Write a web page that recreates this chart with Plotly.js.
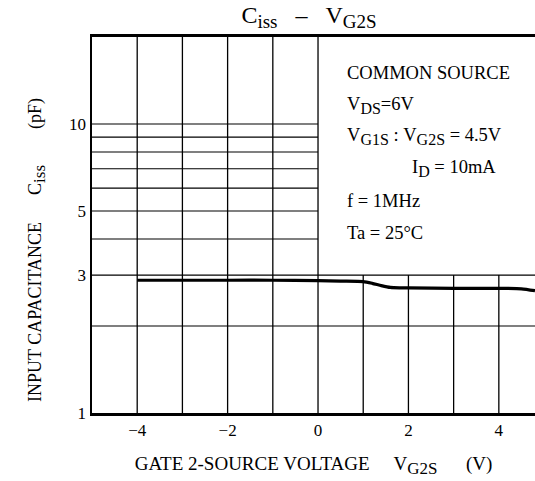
<!DOCTYPE html>
<html>
<head>
<meta charset="utf-8">
<script src="https://cdn.plot.ly/plotly-3.0.1.min.js"></script>
<style>html,body{margin:0;padding:0;background:#fff;}#chart{width:535px;height:481px;}</style>
</head>
<body>
<div id="chart"></div>
<script>
// Data
const vg2s = [-4, -3, -2, -1, 0, 0.5, 1.0, 1.2, 1.4, 1.6, 1.8, 2, 3, 4, 4.5, 4.8];
const ciss = [2.88, 2.88, 2.88, 2.88, 2.87, 2.86, 2.85, 2.81, 2.76, 2.72, 2.71, 2.71, 2.70, 2.70, 2.69, 2.65];

const xTickVals = [-4, -2, 0, 2, 4];
const xTickText = ['\u22124', '\u22122', '0', '2', '4'];
const yTickVals = [1, 3, 5, 10];
const yTickText = ['1', '3', '5', '10'];

const hGridFull = [2, 3];
const hGridLeft = [4, 5, 6, 7, 8, 9, 10];
const vGridFull = [-4, -3, -2, -1, 0];
const vGridLower = [1, 2, 3, 4];

const sub = (t, s) => '<sub><span style="font-size:' + (s || 16) + 'px">' + t + '</span></sub>';
const NB = '\u00a0';
const sp = n => NB.repeat(n);
const conditions = [
  'COMMON SOURCE',
  'V' + sub('DS') + '=6V',
  'V' + sub('G1S') + sp(1) + ':' + sp(1) + 'V' + sub('G2S') + sp(1) + '=' + sp(1) + '4.5V',
  'I' + sub('D') + sp(1) + '=' + sp(1) + '10mA',
  'f' + sp(1) + '=' + sp(1) + '1MHz',
  'Ta' + sp(1) + '=' + sp(1) + '25\u00b0C'
];

const xMin = -5, xMax = 4.8;
const yMax = 20;
const yRange = [0, Math.log10(yMax)];
const yFrac = v => Math.log10(v) / yRange[1];

const FONT = 'Liberation Serif, Times New Roman, serif';

const shapes = [];
hGridFull.forEach(v => shapes.push({type:'line', xref:'x domain', yref:'y domain', x0:0, x1:1, y0:yFrac(v), y1:yFrac(v), line:{color:'#000', width:1.2}}));
hGridLeft.forEach(v => shapes.push({type:'line', xref:'x', yref:'y domain', x0:xMin, x1:0, y0:yFrac(v), y1:yFrac(v), line:{color:'#000', width:1.2}}));
vGridFull.forEach(v => shapes.push({type:'line', xref:'x', yref:'y domain', x0:v, x1:v, y0:0, y1:1, line:{color:'#000', width:1.3}}));
vGridLower.forEach(v => shapes.push({type:'line', xref:'x', yref:'y domain', x0:v, x1:v, y0:0, y1:yFrac(3), line:{color:'#000', width:1.3}}));

const W = 535, H = 481, mL = 92, mT = 37, mB = 68, mR = 0;
const px2x = px => (px - mL) / (W - mL - mR);
const py2y = py => (H - mB - py) / (H - mT - mB);

const condPos = [
  [345, 73], [345, 105], [345, 136], [410, 168], [345, 201], [345, 233]
];
const annotations = conditions.map((t, i) => ({
  text: t, xref:'paper', yref:'paper', x: px2x(condPos[i][0]), y: py2y(condPos[i][1]),
  xanchor:'left', yanchor:'middle', showarrow:false,
  font:{family:FONT, size:18.5, color:'#000'}
}));
annotations.push({
  text:'INPUT CAPACITANCE' + sp(6) + 'C' + sub('iss', 17) + sp(8) + '(pF)',
  xref:'paper', yref:'paper', x: px2x(37), y: py2y(250),
  xanchor:'center', yanchor:'middle', textangle:-90, showarrow:false,
  font:{family:FONT, size:18, color:'#000'}
});

const trace = {
  x: vg2s, y: ciss, type:'scatter', mode:'lines',
  line:{color:'#000', width:3.2, shape:'spline', smoothing:0.6},
  hoverinfo:'skip', showlegend:false
};

const layout = {
  width: W, height: H,
  margin: {l:mL, r:mR, t:mT, b:mB},
  paper_bgcolor:'#fff', plot_bgcolor:'#fff',
  font:{family:FONT, color:'#000', size:16},
  title:{text:'C' + sub('iss', 19) + sp(3) + '\u2013' + sp(3) + 'V' + sub('G2S', 19), x:309/W, xanchor:'center', xref:'container', y:1-15/H, yanchor:'middle', yref:'container', font:{family:FONT, size:24, color:'#000'}},
  xaxis:{
    range:[xMin, xMax], showgrid:false, zeroline:false,
    showline:true, linecolor:'#000', linewidth:3, mirror:true,
    tickmode:'array', tickvals:xTickVals, ticktext:xTickText, ticks:'',
    tickfont:{family:FONT, size:17, color:'#000'},
    title:{text:sp(3) + 'GATE 2-SOURCE VOLTAGE' + sp(5) + 'V' + sub('G2S', 17) + sp(6) + '(V)', font:{family:FONT, size:19, color:'#000'}, standoff:18}
  },
  yaxis:{
    type:'log', range:yRange, showgrid:false, zeroline:false,
    showline:true, linecolor:'#000', linewidth:2.5, mirror:false,
    tickmode:'array', tickvals:yTickVals, ticktext:yTickText, ticks:'',
    tickfont:{family:FONT, size:17, color:'#000'}
  },
  shapes: shapes,
  annotations: annotations
};

Plotly.newPlot('chart', [trace], layout, {displayModeBar:false, staticPlot:true});
</script>
</body>
</html>
